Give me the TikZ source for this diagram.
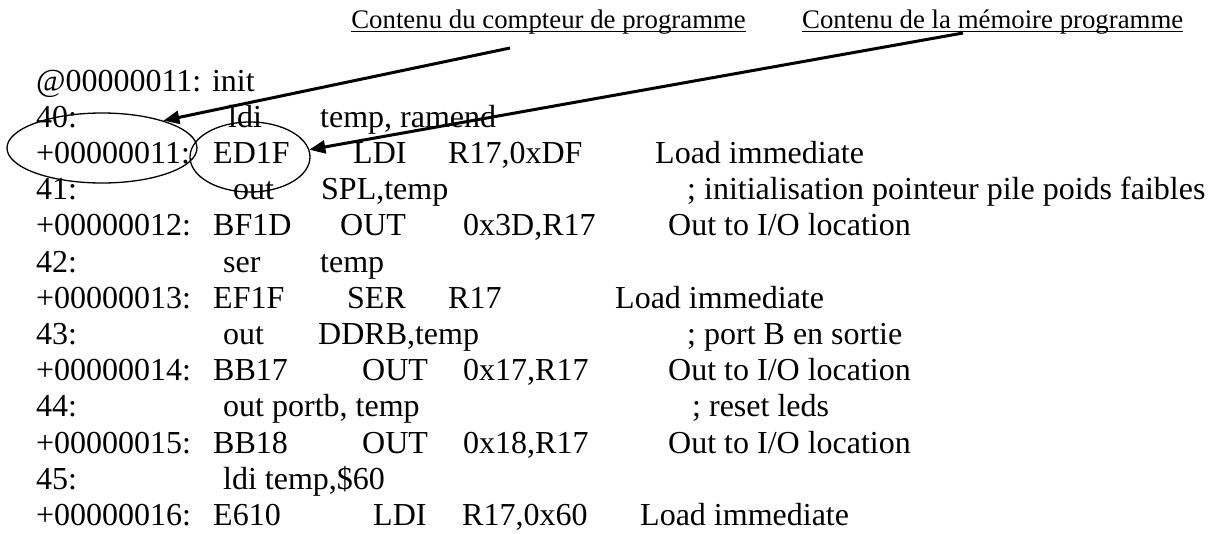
\documentclass[tikz,border=0pt]{standalone}
\usepackage{fontspec}
\setmainfont{Liberation Serif}
\usetikzlibrary{arrows.meta,shapes.geometric}
\tikzset{
  code/.style={anchor=base west,inner sep=0pt,font=\fontsize{32}{37}\selectfont},
  titre/.style={inner sep=0pt,font=\fontsize{26.8}{31}\selectfont},
  ring/.style={draw,ellipse,line width=1.3pt,inner sep=0pt},
  pointer/.style={line width=3pt,-{Triangle[length=16pt,width=13pt]}},
  souligne/.style={line width=1.5pt}
}
\begin{document}
\begin{tikzpicture}[x=1pt,y=-1pt]
\useasboundingbox (0,0) rectangle (1220,533);
% titres
\node[titre,anchor=base east] (tpc) at (746,28) {Contenu du compteur de programme};
\node[titre,anchor=base west] (tmem) at (802,28) {Contenu de la mémoire programme};
\draw[souligne] ([yshift=-3.5pt]tpc.base west) -- ([yshift=-3.5pt]tpc.base east);
\draw[souligne] ([yshift=-3.5pt]tmem.base west) -- ([yshift=-3.5pt]tmem.base east);
% listing
\node[code] (a0) at (36,91) {@00000011: init};
\node[code] (a1) at (36,127.2) {40:};
\node[code] (m1) at (228,127.2) {ldi};
\node[code] (o1) at (320,127.2) {temp, ramend};
\node[code] (a2) at (36,163.4) {+00000011:};
\node[code] (h2) at (213,163.4) {ED1F};
\node[code] (m2) at (353,163.4) {LDI};
\node[code] (o2) at (448,163.4) {R17,0xDF};
\node[code] (c2) at (655,163.4) {Load immediate};
\node[code] (a3) at (36,199.6) {41:};
\node[code] (m3) at (233,199.6) {out};
\node[code] (o3) at (321,199.6) {SPL,temp};
\node[code] (c3) at (687,199.6) {; initialisation pointeur pile poids faibles};
\node[code] (a4) at (36,235.8) {+00000012:};
\node[code] (h4) at (213,235.8) {BF1D};
\node[code] (m4) at (340,235.8) {OUT};
\node[code] (o4) at (463,235.8) {0x3D,R17};
\node[code] (c4) at (668,235.8) {Out to I/O location};
\node[code] (a5) at (36,272) {42:};
\node[code] (m5) at (223,272) {ser};
\node[code] (o5) at (320,272) {temp};
\node[code] (a6) at (36,308.2) {+00000013:};
\node[code] (h6) at (213,308.2) {EF1F};
\node[code] (m6) at (347,308.2) {SER};
\node[code] (o6) at (448,308.2) {R17};
\node[code] (c6) at (615,308.2) {Load immediate};
\node[code] (a7) at (36,344.4) {43:};
\node[code] (m7) at (223,344.4) {out};
\node[code] (o7) at (318,344.4) {DDRB,temp};
\node[code] (c7) at (687,344.4) {; port B en sortie};
\node[code] (a8) at (36,380.6) {+00000014:};
\node[code] (h8) at (213,380.6) {BB17};
\node[code] (m8) at (362,380.6) {OUT};
\node[code] (o8) at (463,380.6) {0x17,R17};
\node[code] (c8) at (668,380.6) {Out to I/O location};
\node[code] (a9) at (36,416.8) {44:};
\node[code] (m9) at (223,416.8) {out portb, temp};
\node[code] (c9) at (692,416.8) {; reset leds};
\node[code] (a10) at (36,453) {+00000015:};
\node[code] (h10) at (213,453) {BB18};
\node[code] (m10) at (362,453) {OUT};
\node[code] (o10) at (463,453) {0x18,R17};
\node[code] (c10) at (668,453) {Out to I/O location};
\node[code] (a11) at (36,489.2) {45:};
\node[code] (m11) at (223,489.2) {ldi temp,\$60};
\node[code] (a12) at (36,525.4) {+00000016:};
\node[code] (h12) at (213,525.4) {E610};
\node[code] (m12) at (373,525.4) {LDI};
\node[code] (o12) at (462,525.4) {R17,0x60};
\node[code] (c12) at (640,525.4) {Load immediate};
% cercles et fleches
\node[ring,minimum width=190pt,minimum height=70pt] (pcring) at (102,148) {};
\node[ring,minimum width=120pt,minimum height=70pt] (memring) at (250,157) {};
\coordinate (pcfrom) at (510,48);
\coordinate (memfrom) at (963,33);
\draw[pointer] (pcfrom) -- (pcring.24);
\draw[pointer] (memfrom) -- (memring.7);
\end{tikzpicture}
\end{document}
